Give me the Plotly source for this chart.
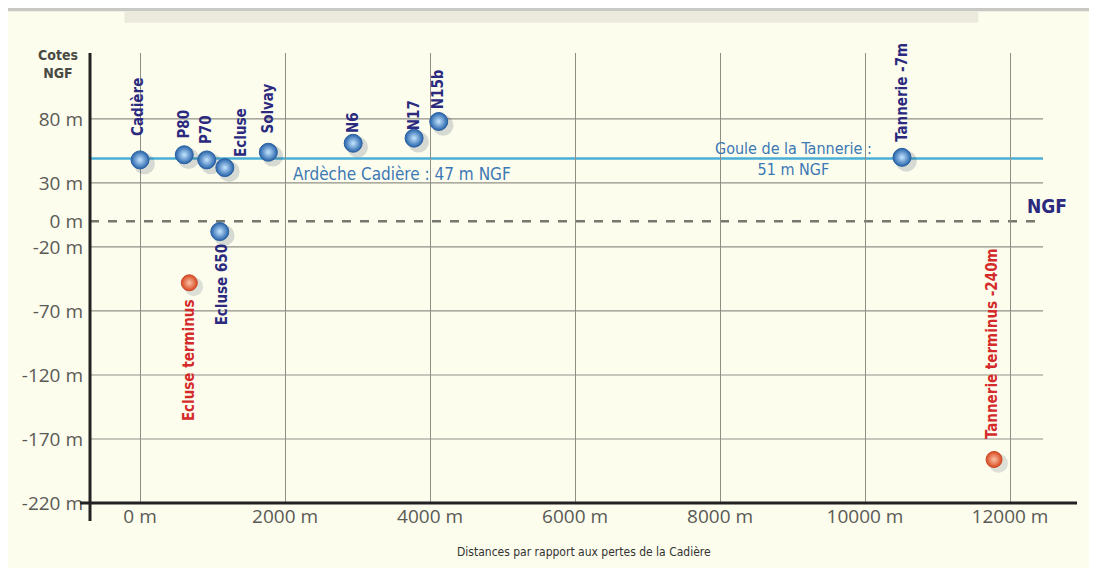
import plotly.graph_objects as go

# ---- data ----
blue_names = ["Cadière", "P80", "P70", "Ecluse", "Solvay", "Ecluse 650", "N6", "N17", "N15b", "Tannerie -7m"]
blue_dist = [0, 610, 920, 1170, 1770, 1100, 2940, 3780, 4120, 10510]
blue_alt = [48, 52, 48, 42, 54, -8, 61, 65, 78, 50]

red_names = ["Ecluse terminus", "Tannerie terminus -240m"]
red_dist = [680, 11780]
red_alt = [-48, -186]

ardeche_level = 49
x_ticks = [0, 2000, 4000, 6000, 8000, 10000, 12000]
x_ticktext = ["0 m", "2000 m", "4000 m", "6000 m", "8000 m", "10000 m", "12000 m"]
y_ticks = [80, 30, 0, -20, -70, -120, -170, -220]
y_ticktext = ["80 m", "30 m", "0 m", "-20 m", "-70 m", "-120 m", "-170 m", "-220 m"]
y_grid = [80, 30, -20, -70, -120, -170]

X_MIN, X_MAX = -690, 12924
GRID_END = 12455

NAVY = "#2b2a7e"
RED = "#d42a2a"
LABEL_FONT = "DejaVu Sans Condensed, Roboto, sans-serif"

fig = go.Figure()

# horizontal grid lines
for gy in y_grid:
    fig.add_shape(type="line", xref="x", yref="y", x0=X_MIN, x1=GRID_END, y0=gy, y1=gy,
                  line=dict(color="#8f8f86", width=1.2), layer="below")
# NGF dashed zero line
fig.add_shape(type="line", xref="x", yref="y", x0=X_MIN, x1=GRID_END, y0=0, y1=0,
              line=dict(color="#77776f", width=2.5, dash="dash"), layer="below")
# Ardèche level line
fig.add_shape(type="line", xref="x", yref="y", x0=X_MIN, x1=GRID_END, y0=ardeche_level, y1=ardeche_level,
              line=dict(color="#4aaed6", width=2.5), layer="below")

# axis lines as shapes
fig.add_shape(type="line", xref="paper", yref="paper", x0=0, x1=0, y0=-0.04, y1=1,
              line=dict(color="#222", width=3))
fig.add_shape(type="line", xref="paper", yref="paper", x0=-0.01, x1=1, y0=0, y1=0,
              line=dict(color="#222", width=3))

# top grey page band
fig.add_shape(type="rect", xref="paper", yref="paper", x0=-0.1, x1=1.03, y0=1.093, y1=1.12,
              fillcolor="#c8c8c4", line_width=0, layer="below")
fig.add_shape(type="rect", xref="paper", yref="paper", x0=0.035, x1=0.9, y0=1.067, y1=1.093,
              fillcolor="#ebeadd", line_width=0, layer="below")

# shadows
fig.add_trace(go.Scatter(x=[v + 60 for v in blue_dist], y=[v - 3 for v in blue_alt], mode="markers",
                         marker=dict(size=21, color="rgba(40,60,90,0.18)", line_width=0),
                         hoverinfo="skip", showlegend=False))
fig.add_trace(go.Scatter(x=[v + 60 for v in red_dist], y=[v - 3 for v in red_alt], mode="markers",
                         marker=dict(size=19, color="rgba(40,60,90,0.15)", line_width=0),
                         hoverinfo="skip", showlegend=False))

fig.add_trace(go.Scatter(x=blue_dist, y=blue_alt, mode="markers",
                         marker=dict(size=18, color="#2462aa",
                                     gradient=dict(type="radial", color="#c6e6ff"),
                                     line=dict(color="#2a5fa0", width=1)),
                         showlegend=False))
fig.add_trace(go.Scatter(x=red_dist, y=red_alt, mode="markers",
                         marker=dict(size=16, color="#d9491f",
                                     gradient=dict(type="radial", color="#fbc3a8"),
                                     line=dict(color="#c9482a", width=1)),
                         showlegend=False))

# point labels (style offsets: xshift, yshift, anchor)
offsets = {
    "Cadière": (-2, 22, "bottom"),
    "P80": (0, 14, "bottom"),
    "P70": (0, 14, "bottom"),
    "Ecluse": (16, 9, "bottom"),
    "Solvay": (0, 17, "bottom"),
    "Ecluse 650": (2, -10, "top"),
    "N6": (0, 8, "bottom"),
    "N17": (0, 6, "bottom"),
    "N15b": (0, 10, "bottom"),
    "Tannerie -7m": (0, 14, "bottom"),
}
for name, xv, yv in zip(blue_names, blue_dist, blue_alt):
    xs, ys, anc = offsets[name]
    fig.add_annotation(x=xv, y=yv, text=name, showarrow=False, textangle=-90,
                       xanchor="center", yanchor=anc, xshift=xs, yshift=ys,
                       font=dict(family=LABEL_FONT, size=15, color=NAVY, weight="bold"))

red_offsets = {
    "Ecluse terminus": (-1, -14, "top"),
    "Tannerie terminus -240m": (-2, 18, "bottom"),
}
for name, xv, yv in zip(red_names, red_dist, red_alt):
    xs, ys, anc = red_offsets[name]
    fig.add_annotation(x=xv, y=yv, text=name, showarrow=False, textangle=-90,
                       xanchor="center", yanchor=anc, xshift=xs, yshift=ys,
                       font=dict(family=LABEL_FONT, size=15, color=RED, weight="bold"))

# level texts
fig.add_annotation(x=2080, y=ardeche_level, text="Ardèche Cadière : 47 m NGF", showarrow=False,
                   xanchor="left", yanchor="top", yshift=-3,
                   font=dict(family=LABEL_FONT, size=17, color="#3b78b4"))
fig.add_annotation(x=9020, y=ardeche_level, text="Goule de la Tannerie :<br>51 m NGF", showarrow=False,
                   xanchor="center", yanchor="middle", yshift=0, align="center",
                   font=dict(family=LABEL_FONT, size=16, color="#3b78b4"))

# NGF right label
fig.add_annotation(x=1.0, xref="paper", xanchor="right", xshift=-8, y=0, yanchor="bottom", yshift=2,
                   text="<b>NGF</b>", showarrow=False,
                   font=dict(family=LABEL_FONT, size=19, color=NAVY))

# y axis title
fig.add_annotation(x=0, xref="paper", xanchor="right", xshift=-10, y=1, yref="paper", yanchor="bottom",
                   yshift=-30, text="<b>Cotes<br>NGF</b>", showarrow=False, align="center",
                   font=dict(family=LABEL_FONT, size=14, color="#4a4a44"))

# x axis title
fig.add_annotation(x=0.5, xref="paper", xanchor="center", y=0, yref="paper", yanchor="top",
                   yshift=-40, text="Distances par rapport aux pertes de la Cadière", showarrow=False,
                   font=dict(family=LABEL_FONT, size=12, color="#333"))

fig.update_xaxes(range=[X_MIN, X_MAX], tickvals=x_ticks, ticktext=x_ticktext,
                 showgrid=True, gridcolor="#8f8f86", gridwidth=1.2, zeroline=False,
                 showline=False, ticks="", automargin=False, ticklabelstandoff=0,
                 tickfont=dict(family="Open Sans", size=19, color="#5a5a55"))
fig.update_yaxes(range=[-220, 131.5], tickvals=y_ticks, ticktext=y_ticktext,
                 showgrid=False, zeroline=False, showline=False, ticks="",
                 automargin=False, ticklabelstandoff=6,
                 tickfont=dict(family="Open Sans", size=19, color="#5a5a55"))

fig.update_layout(width=1089, height=560, margin=dict(l=82, r=20, t=45, b=65),
                  paper_bgcolor="#fdfdee", plot_bgcolor="#fdfdee",
                  showlegend=False)

fig.write_html("out.html")
